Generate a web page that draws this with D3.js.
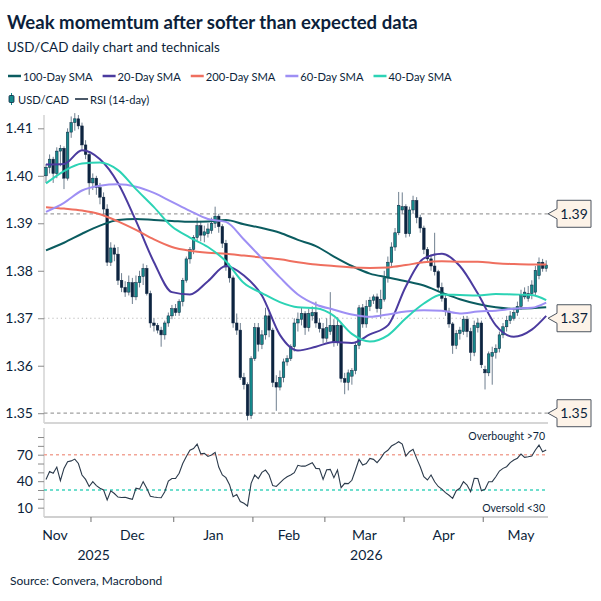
<!DOCTYPE html>
<html>
<head>
<meta charset="utf-8">
<script src="https://cdn.jsdelivr.net/npm/d3@7"></script>
<style>
  body { margin: 0; background: #fff; }
  text { font-family: Lato, "Open Sans", sans-serif; }
</style>
</head>
<body>
<svg id="chart" width="601" height="601"></svg>
<script>
// trading days shown: 12 Nov 2025 .. 26 May 2026 (weekdays)
const firstDay = new Date(2025, 10, 12);
const lastDay = new Date(2026, 4, 26);

const open = [
  1.4000,1.4018,1.4035,1.4005,1.4052,1.4058,1.3995,1.4092,1.4112,1.4120,
  1.4105,1.4065,1.4045,1.3985,1.3995,1.3975,1.3955,1.3930,1.3818,1.3848,
  1.3835,1.3780,1.3765,1.3755,1.3775,1.3745,1.3775,1.3788,1.3805,1.3752,
  1.3690,1.3685,1.3675,1.3665,1.3690,1.3705,1.3720,1.3712,1.3735,1.3780,
  1.3825,1.3845,1.3870,1.3895,1.3875,1.3878,1.3885,1.3900,1.3915,1.3893,
  1.3858,1.3808,1.3785,1.3690,1.3675,1.3575,1.3560,1.3495,1.3615,1.3680,
  1.3645,1.3665,1.3705,1.3675,1.3565,1.3555,1.3575,1.3608,1.3615,1.3640,
  1.3690,1.3698,1.3710,1.3680,1.3705,1.3712,1.3690,1.3678,1.3658,1.3672,
  1.3685,1.3650,1.3685,1.3573,1.3565,1.3578,1.3590,1.3643,1.3722,1.3688,
  1.3725,1.3738,1.3745,1.3720,1.3740,1.3785,1.3818,1.3850,1.3880,1.3928,
  1.3935,1.3878,1.3928,1.3948,1.3912,1.3890,1.3845,1.3825,1.3810,1.3798,
  1.3765,1.3742,1.3715,1.3688,1.3643,1.3668,1.3672,1.3698,1.3672,1.3628,
  1.3680,1.3690,1.3592,1.3585,1.3620,1.3628,1.3636,1.3665,1.3682,1.3695,
  1.3700,1.3712,1.3725,1.3745,1.3742,1.3752,1.3755,1.3790,1.3818,1.3805
];
const high = [
  1.4025,1.4045,1.4040,1.4060,1.4065,1.4062,1.4100,1.4125,1.4132,1.4128,
  1.4112,1.4075,1.4050,1.4005,1.4000,1.3985,1.3965,1.3940,1.3860,1.3855,
  1.3850,1.3795,1.3778,1.3790,1.3785,1.3790,1.3800,1.3815,1.3812,1.3758,
  1.3700,1.3690,1.3682,1.3695,1.3712,1.3728,1.3730,1.3740,1.3785,1.3830,
  1.3850,1.3875,1.3912,1.3905,1.3895,1.3900,1.3912,1.3935,1.3920,1.3898,
  1.3865,1.3815,1.3790,1.3710,1.3690,1.3585,1.3565,1.3620,1.3690,1.3690,
  1.3675,1.3722,1.3712,1.3680,1.3580,1.3590,1.3615,1.3622,1.3645,1.3700,
  1.3712,1.3722,1.3715,1.3720,1.3725,1.3735,1.3700,1.3690,1.3700,1.3755,
  1.3698,1.3702,1.3692,1.3585,1.3592,1.3595,1.3650,1.3728,1.3730,1.3738,
  1.3745,1.3750,1.3752,1.3760,1.3800,1.3830,1.3860,1.3890,1.3966,1.3965,
  1.3940,1.3935,1.3958,1.3955,1.3918,1.3895,1.3850,1.3835,1.3880,1.3802,
  1.3775,1.3750,1.3722,1.3692,1.3675,1.3682,1.3705,1.3705,1.3680,1.3695,
  1.3700,1.3695,1.3600,1.3630,1.3640,1.3645,1.3672,1.3690,1.3705,1.3715,
  1.3722,1.3735,1.3760,1.3765,1.3768,1.3780,1.3810,1.3828,1.3825,1.3822
];
const low = [
  1.3985,1.4005,1.3985,1.3995,1.4020,1.3972,1.3990,1.4080,1.4095,1.4098,
  1.4055,1.4035,1.3960,1.3970,1.3960,1.3940,1.3915,1.3810,1.3810,1.3820,
  1.3770,1.3755,1.3745,1.3748,1.3730,1.3738,1.3765,1.3770,1.3748,1.3680,
  1.3672,1.3668,1.3640,1.3655,1.3682,1.3698,1.3705,1.3705,1.3725,1.3775,
  1.3815,1.3835,1.3862,1.3862,1.3860,1.3870,1.3878,1.3890,1.3880,1.3848,
  1.3800,1.3775,1.3680,1.3665,1.3570,1.3550,1.3485,1.3488,1.3610,1.3630,
  1.3635,1.3655,1.3660,1.3555,1.3505,1.3548,1.3565,1.3600,1.3610,1.3630,
  1.3672,1.3685,1.3665,1.3672,1.3695,1.3680,1.3670,1.3648,1.3650,1.3665,
  1.3640,1.3642,1.3565,1.3540,1.3548,1.3560,1.3582,1.3635,1.3680,1.3680,
  1.3715,1.3730,1.3712,1.3700,1.3735,1.3775,1.3810,1.3842,1.3875,1.3920,
  1.3870,1.3872,1.3920,1.3900,1.3880,1.3835,1.3818,1.3800,1.3790,1.3755,
  1.3735,1.3705,1.3680,1.3625,1.3635,1.3655,1.3665,1.3660,1.3610,1.3620,
  1.3670,1.3595,1.3550,1.3578,1.3560,1.3615,1.3628,1.3658,1.3672,1.3688,
  1.3695,1.3705,1.3718,1.3740,1.3735,1.3740,1.3748,1.3782,1.3798,1.3798
];
const close = [
  1.4018,1.4035,1.4005,1.4052,1.4058,1.3995,1.4092,1.4112,1.4120,1.4105,
  1.4065,1.4045,1.3985,1.3995,1.3975,1.3955,1.3930,1.3818,1.3848,1.3835,
  1.3780,1.3765,1.3755,1.3775,1.3745,1.3775,1.3788,1.3805,1.3752,1.3690,
  1.3685,1.3675,1.3665,1.3690,1.3705,1.3720,1.3712,1.3735,1.3780,1.3825,
  1.3845,1.3870,1.3895,1.3875,1.3882,1.3888,1.3900,1.3915,1.3893,1.3858,
  1.3808,1.3785,1.3690,1.3675,1.3575,1.3560,1.3495,1.3615,1.3680,1.3645,
  1.3665,1.3705,1.3675,1.3565,1.3555,1.3575,1.3608,1.3615,1.3640,1.3690,
  1.3698,1.3710,1.3680,1.3710,1.3712,1.3690,1.3678,1.3658,1.3680,1.3685,
  1.3650,1.3685,1.3573,1.3565,1.3585,1.3590,1.3643,1.3722,1.3688,1.3725,
  1.3738,1.3745,1.3720,1.3740,1.3785,1.3818,1.3850,1.3880,1.3938,1.3935,
  1.3878,1.3928,1.3948,1.3912,1.3890,1.3845,1.3825,1.3810,1.3798,1.3765,
  1.3742,1.3715,1.3688,1.3643,1.3668,1.3675,1.3698,1.3672,1.3628,1.3685,
  1.3690,1.3602,1.3585,1.3625,1.3628,1.3636,1.3665,1.3682,1.3695,1.3705,
  1.3712,1.3725,1.3748,1.3755,1.3752,1.3770,1.3801,1.3818,1.3805,1.3812
];

// moving averages, read every 5th trading day
const smaDay = [0,5,10,15,20,25,30,35,40,45,50,55,60,65,70,75,80,85,90,95,100,105,110,115,120,125,130,135,139];
const sma20 = [1.4024,1.4025,1.4054,1.4035,1.3985,1.3905,1.3818,1.3755,1.3750,1.3778,1.3810,1.3790,1.3748,1.3665,1.3632,
  1.3640,1.3650,1.3648,1.3666,1.3685,1.3767,1.3826,1.3836,1.3810,1.3752,1.3685,1.3661,1.3676,1.3705];
const sma40 = [1.3984,1.4010,1.4026,1.4028,1.4012,1.3972,1.3934,1.3893,1.3870,1.3850,1.3820,1.3774,1.3753,1.3734,1.3723,
  1.3721,1.3705,1.3667,1.3651,1.3664,1.3700,1.3731,1.3750,1.3749,1.3748,1.3751,1.3750,1.3749,1.3738];
const sma60 = [1.3924,1.3943,1.3969,1.3979,1.3982,1.3977,1.3964,1.3945,1.3926,1.3909,1.3903,1.3866,1.3826,1.3786,1.3750,
  1.3729,1.3718,1.3708,1.3703,1.3708,1.3714,1.3717,1.3716,1.3710,1.3714,1.3716,1.3720,1.3722,1.3733];
const sma100 = [1.3843,1.3859,1.3878,1.3895,1.3907,1.3909,1.3907,1.3905,1.3903,1.3904,1.3907,1.3898,1.3890,1.3880,1.3865,
  1.3852,1.3830,1.3810,1.3794,1.3786,1.3778,1.3769,1.3754,1.3740,1.3730,1.3723,1.3720,1.3721,1.3723];
const sma200 = [1.3934,1.3931,1.3927,1.3919,1.3904,1.3886,1.3866,1.3850,1.3842,1.3838,1.3836,1.3832,1.3828,1.3824,1.3818,
  1.3813,1.3810,1.3807,1.3806,1.3807,1.3812,1.3818,1.3820,1.3819,1.3819,1.3816,1.3814,1.3813,1.3813];

const rsi = [
  42,51,49,56,40.5,54.5,62,63,65,60,
  47,42,34,39.5,35,32,30,18.7,29,26,
  22,21.5,21.7,20.5,19.4,32,31,39.5,32,23,
  22,21.5,21.3,28,40,43,43,49,60,68,
  75,77,82,71,71.5,68,69.6,72.6,56,47,
  44,36,22.5,25,17,15,12,37.5,47,43,
  50,52.6,47,35,34,38,42,45,47,49.6,
  58,57,57,59,61,54.5,54,42,53,53.4,
  44,52.6,32.6,37.5,37.2,41,52.6,64.7,58.3,60,
  65.8,64.7,61,65.8,72,75,79.8,82,84.7,82,
  68.5,73.4,76,65.8,56.4,45,41.3,47,39.4,34,
  31,27,24,20.6,29.2,31.9,39.4,35.7,28.1,43.2,
  43,29.2,30.8,39.4,39.5,45,51.5,54.5,56.4,61,
  64,66,70.8,67,67.7,68.5,75.3,80.9,73.4,75.3
];

const priceTicks = [1.35, 1.36, 1.37, 1.38, 1.39, 1.40, 1.41];
const rsiTicks = [10, 20, 30, 40, 50, 60, 70, 80, 90];
const rsiLabels = [10, 40, 70];
const levels = [1.392, 1.370, 1.350];
const levelLabels = ["1.39", "1.37", "1.35"];

const seriesNames = ["100-Day SMA", "20-Day SMA", "200-Day SMA", "60-Day SMA", "40-Day SMA"];
const seriesColors = ["#0b5c60", "#4b3b9f", "#ef6f5f", "#9e8ff4", "#2cd3b5"];
const seriesValues = [sma100, sma20, sma200, sma60, sma40];

const ink = "#0c1f3b";
const upColor = "#15898b";
const downColor = "#0d2440";
const wickColor = "#6f7f8f";

const svg = d3.select("#chart");

// shrink a text to a target width if it comes out wider
function fit(sel, size, width) {
  const w = sel.node().getComputedTextLength();
  if (w > width) sel.attr("font-size", (size * width) / w);
}

// ---- scales ----
const isWeekday = (d) => d.getDay() % 6 !== 0;
const days = d3.timeDay.range(firstDay, d3.timeDay.offset(lastDay, 1)).filter(isWeekday);

const xScale = d3.scaleLinear().domain([0, days.length]).range([44.2, 548]);
const step = xScale(1) - xScale(0);
const cx = (i) => xScale(i + 0.5);

const yScale = d3.scaleLinear().domain([1.348, 1.4135]).range([422.7, 111.7]);
const rScale = d3.scaleLinear().domain([0, 100]).range([516.5, 428.2]);

// ---- titles ----
const title = svg.append("text").attr("x", 7).attr("y", 29)
  .attr("font-size", 20).attr("font-weight", 700).attr("fill", ink)
  .text("Weak momemtum after softer than expected data");
fit(title, 20, 411);
const sub = svg.append("text").attr("x", 7).attr("y", 52)
  .attr("font-size", 15.5).attr("fill", ink)
  .text("USD/CAD daily chart and technicals");
fit(sub, 15.5, 213);

// ---- legend ----
const legend = svg.append("g");
const legendTexts = seriesNames.map((name, k) =>
  legend.append("text").attr("y", 80.5).attr("font-size", 13.5).attr("fill", ink).text(name));
const natural = d3.sum(legendTexts, (t) => t.node().getComputedTextLength());
const legendSize = Math.min(13.5, (13.5 * (452 - 8 - 5 * 15 - 4 * 10)) / natural);
let lx = 8;
legendTexts.forEach((t, k) => {
  t.attr("font-size", legendSize).attr("x", lx + 15);
  legend.append("line").attr("x1", lx).attr("x2", lx + 13).attr("y1", 76).attr("y2", 76)
    .attr("stroke", seriesColors[k]).attr("stroke-width", 2.5);
  lx += 15 + t.node().getComputedTextLength() + 10;
});
legend.append("line").attr("x1", 11.5).attr("x2", 11.5).attr("y1", 93).attr("y2", 105)
  .attr("stroke", upColor).attr("stroke-width", 1);
legend.append("rect").attr("x", 9).attr("y", 95.5).attr("width", 5).attr("height", 7).attr("rx", 1)
  .attr("fill", upColor).attr("stroke", downColor).attr("stroke-width", 0.8);
const usd = legend.append("text").attr("x", 18).attr("y", 103.5)
  .attr("font-size", legendSize).attr("fill", ink).text("USD/CAD");
const rx0 = 18 + usd.node().getComputedTextLength() + 6;
legend.append("line").attr("x1", rx0).attr("x2", rx0 + 13).attr("y1", 99).attr("y2", 99)
  .attr("stroke", "#4a5868").attr("stroke-width", 2);
legend.append("text").attr("x", rx0 + 15).attr("y", 103.5)
  .attr("font-size", legendSize).attr("fill", ink).text("RSI (14-day)");

// ---- price panel ----
const plot = svg.append("g");

plot.append("line").attr("x1", 44).attr("x2", 44).attr("y1", 115).attr("y2", 423)
  .attr("stroke", "#c8c8c8").attr("stroke-width", 1.2);
plot.append("line").attr("x1", 44).attr("x2", 548).attr("y1", 423).attr("y2", 423)
  .attr("stroke", "#d6d6d6").attr("stroke-width", 2);

const yAxis = plot.append("g").attr("transform", "translate(44,0)")
  .call(d3.axisLeft(yScale).tickValues(priceTicks).tickFormat(d3.format(".2f")).tickSize(6).tickPadding(5));
yAxis.select(".domain").remove();
yAxis.selectAll(".tick line").attr("stroke", "#8a8a8a");
yAxis.selectAll(".tick text").attr("font-size", 14).attr("fill", ink).attr("font-family", null);

// reference lines
plot.append("line").attr("x1", 44).attr("x2", 548).attr("y1", yScale(1.37)).attr("y2", yScale(1.37))
  .attr("stroke", "#b8b8b8").attr("stroke-width", 1).attr("stroke-dasharray", "1.2,3");
[levels[0], levels[2]].forEach((v) => {
  plot.append("line").attr("x1", 44).attr("x2", 548).attr("y1", yScale(v)).attr("y2", yScale(v))
    .attr("stroke", "#a0a0a0").attr("stroke-width", 1.2).attr("stroke-dasharray", "3.5,3");
});

// candles
const candles = plot.append("g").selectAll("g").data(days).join("g");
candles.append("line")
  .attr("x1", (d, i) => cx(i)).attr("x2", (d, i) => cx(i))
  .attr("y1", (d, i) => yScale(high[i])).attr("y2", (d, i) => yScale(low[i]))
  .attr("stroke", wickColor).attr("stroke-width", 1);
candles.append("rect")
  .attr("x", (d, i) => cx(i) - step * 0.36)
  .attr("width", step * 0.72)
  .attr("y", (d, i) => yScale(Math.max(open[i], close[i])))
  .attr("height", (d, i) => Math.max(1.2, Math.abs(yScale(open[i]) - yScale(close[i]))))
  .attr("fill", (d, i) => (close[i] >= open[i] ? upColor : downColor))
  .attr("stroke", downColor).attr("stroke-width", 0.5);

// moving averages
const smaLine = d3.line()
  .x((d, j) => cx(smaDay[j]))
  .y((d) => yScale(d))
  .curve(d3.curveMonotoneX);
seriesValues.forEach((vals, k) => {
  plot.append("path").attr("d", smaLine(vals))
    .attr("fill", "none").attr("stroke", seriesColors[k]).attr("stroke-width", 2);
});

// callouts on the right
levels.forEach((v, k) => {
  const y = yScale(v);
  const p = d3.path();
  p.moveTo(548, y);
  p.lineTo(557, y - 5);
  p.lineTo(557, y - 13.5);
  p.lineTo(591, y - 13.5);
  p.lineTo(591, y + 13.5);
  p.lineTo(557, y + 13.5);
  p.lineTo(557, y + 5);
  p.closePath();
  svg.append("path").attr("d", p.toString())
    .attr("fill", "#fdf3e8").attr("stroke", "#4d5560").attr("stroke-width", 1);
  svg.append("text").attr("x", 574).attr("y", y + 5).attr("text-anchor", "middle")
    .attr("font-size", 14).attr("fill", ink).text(levelLabels[k]);
});

// ---- RSI panel ----
const rsiG = svg.append("g");
rsiG.append("line").attr("x1", 44).attr("x2", 44).attr("y1", 428).attr("y2", 517)
  .attr("stroke", "#c8c8c8").attr("stroke-width", 1.2);
rsiG.append("line").attr("x1", 44).attr("x2", 548).attr("y1", 517).attr("y2", 517)
  .attr("stroke", "#d0d0d0").attr("stroke-width", 2);

const rAxis = rsiG.append("g").attr("transform", "translate(44,0)")
  .call(d3.axisLeft(rScale).tickValues(rsiTicks)
    .tickFormat((d) => (rsiLabels.includes(d) ? d : "")).tickSize(6).tickPadding(5));
rAxis.select(".domain").remove();
rAxis.selectAll(".tick line").attr("stroke", "#8a8a8a");
rAxis.selectAll(".tick text").attr("font-size", 14).attr("fill", ink).attr("font-family", null);

rsiG.append("line").attr("x1", 44).attr("x2", 548).attr("y1", rScale(70)).attr("y2", rScale(70))
  .attr("stroke", "#f2a597").attr("stroke-width", 1.5).attr("stroke-dasharray", "3,3");
rsiG.append("line").attr("x1", 44).attr("x2", 548).attr("y1", rScale(30)).attr("y2", rScale(30))
  .attr("stroke", "#3fd3bd").attr("stroke-width", 1.5).attr("stroke-dasharray", "3,3");

rsiG.append("path")
  .attr("d", d3.line().x((d, i) => cx(i)).y((d) => rScale(d))(rsi))
  .attr("fill", "none").attr("stroke", "#2b3a4b").attr("stroke-width", 1.1);

rsiG.append("text").attr("x", 545).attr("y", 440).attr("text-anchor", "end")
  .attr("font-size", 10.5).attr("fill", ink).text("Overbought >70");
rsiG.append("text").attr("x", 545).attr("y", 511.5).attr("text-anchor", "end")
  .attr("font-size", 10.5).attr("fill", ink).text("Oversold  <30");

// ---- time axis: month boundaries and labels ----
const allDays = d3.timeDay.range(new Date(2025, 10, 1), new Date(2026, 5, 1)).filter(isWeekday);
const offset = allDays.findIndex((d) => +d === +firstDay);
const months = d3.groups(allDays.map((d, k) => ({ d, k: k - offset })), (o) => d3.timeMonth.floor(o.d).getTime());
const fmtMonth = d3.timeFormat("%b");
const yearCenters = new Map();
months.forEach(([m, list]) => {
  const start = list[0].k;
  const center = xScale(start + list.length / 2);
  const md = new Date(m);
  if (start > 0) {
    svg.append("line").attr("x1", xScale(start)).attr("x2", xScale(start))
      .attr("y1", 517).attr("y2", 522).attr("stroke", "#707070").attr("stroke-width", 1);
  }
  svg.append("text").attr("x", center).attr("y", 540).attr("text-anchor", "middle")
    .attr("font-size", 14).attr("fill", ink).text(fmtMonth(md));
  const yr = md.getFullYear();
  if (!yearCenters.has(yr)) yearCenters.set(yr, []);
  yearCenters.get(yr).push(center);
});
yearCenters.forEach((cs, yr) => {
  svg.append("text").attr("x", d3.mean(cs)).attr("y", 560).attr("text-anchor", "middle")
    .attr("font-size", 14).attr("fill", ink).text(yr);
});

const src = svg.append("text").attr("x", 10).attr("y", 585)
  .attr("font-size", 12).attr("fill", ink).text("Source: Convera, Macrobond");
fit(src, 12, 153);
</script>
</body>
</html>
